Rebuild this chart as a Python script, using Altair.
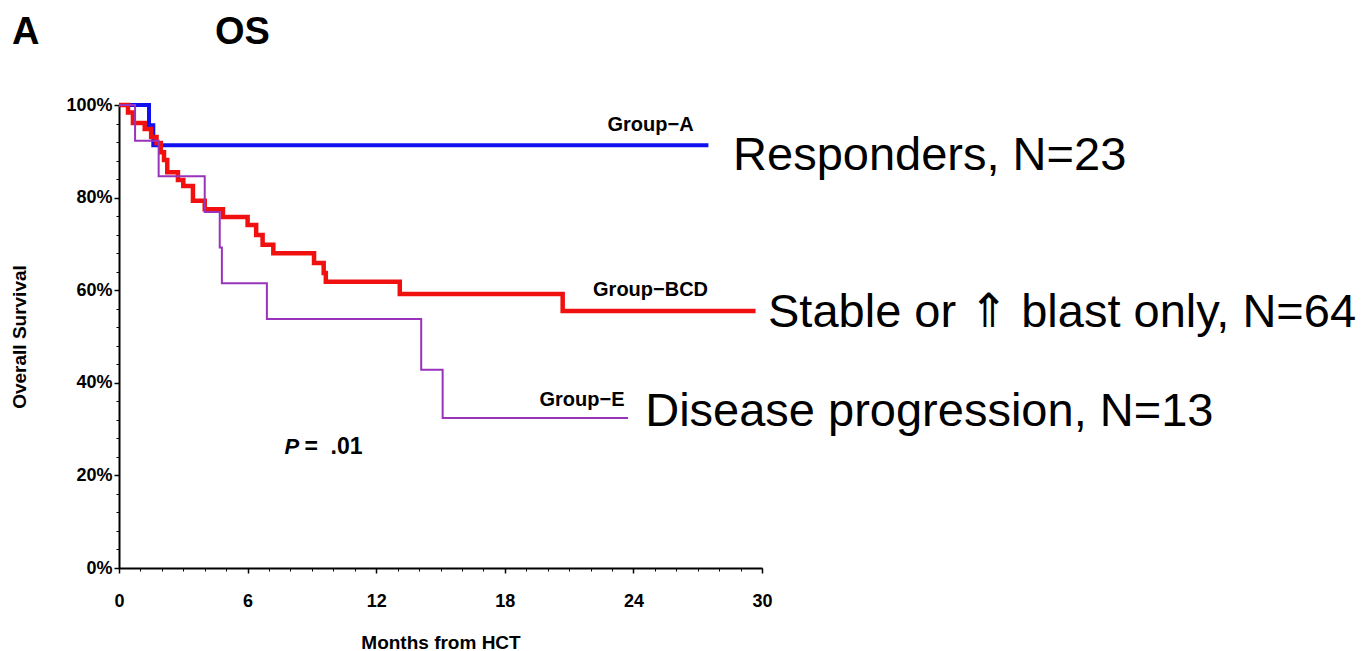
import altair as alt
import pandas as pd

# ---- data ----
group_a_months = [0, 1.4, 1.6, 27.5]
group_a_surv = [100, 95.65, 91.3, 91.3]

group_bcd_months = [0, 0.42, 0.65, 1.2, 1.5, 1.75, 1.95, 2.1, 2.25, 2.75, 3.0, 3.45,
                    4.0, 4.85, 6.0, 6.4, 6.7, 7.2, 9.1, 9.55, 9.65, 13.1, 20.7, 29.7]
group_bcd_surv = [100, 98.4, 96.1, 94.8, 93.1, 91.8, 89.8, 88.1, 85.5, 83.8, 82.5, 79.3,
                  77.5, 75.8, 74.1, 71.9, 69.8, 68.0, 65.9, 63.7, 61.8, 59.2, 55.5, 55.5]

group_e_months = [0, 0.75, 1.85, 4.0, 4.7, 4.8, 6.9, 14.1, 15.1, 23.75]
group_e_surv = [100, 92.3, 84.6, 76.9, 69.2, 61.5, 53.8, 42.8, 32.4, 32.4]

group_names = ["Group-A", "Group-BCD", "Group-E"]
group_colors = ["#1010f0", "#f01010", "#9933bb"]
group_widths = [4, 4.5, 2]

x_ticks = [0, 6, 12, 18, 24, 30]
y_ticks = [0, 20, 40, 60, 80, 100]

# annotation labels (text, month, survival)
small_labels = ["Group\u2212A", "Group\u2212BCD", "Group\u2212E"]
small_x = [24.8, 24.8, 21.6]
small_y = [95.7, 60.0, 36.3]

big_labels = ["Responders, N=23", "Stable or \u21d1 blast only, N=64", "Disease progression, N=13"]
big_x = [28.65, 30.28, 24.55]
big_y = [89.0, 55.1, 33.7]

p_x = [8.07]
p_rest_x = [8.65]
p_y = [26.2]

rows = []
for name, ms, ss in [("Group-A", group_a_months, group_a_surv),
                     ("Group-BCD", group_bcd_months, group_bcd_surv),
                     ("Group-E", group_e_months, group_e_surv)]:
    for m, s in zip(ms, ss):
        rows.append({"group": name, "month": m, "surv": s})
curves = pd.DataFrame(rows)

FONT = "Liberation Sans, Arial"

xscale = alt.Scale(domain=[0, 30], nice=False, zero=False)
yscale = alt.Scale(domain=[0, 100], nice=False)

x_axis = alt.Axis(values=x_ticks, tickSize=5, tickWidth=1.5, tickColor="black",
                  domainColor="black", domainWidth=2, grid=False,
                  labelFont=FONT, labelFontSize=18, labelFontWeight="bold", labelColor="black",
                  labelPadding=19, labelFlush=False,
                  title="Months from HCT", titleFont=FONT, titleFontSize=19,
                  titleFontWeight="bold", titleColor="black", titlePadding=23, orient="bottom")
y_axis = alt.Axis(values=y_ticks, tickSize=5, tickWidth=1.5, tickColor="black",
                  domainColor="black", domainWidth=2, grid=False,
                  labelFont=FONT, labelFontSize=18, labelFontWeight="bold", labelColor="black",
                  labelPadding=2, labelExpr="datum.value + '%'", labelFlush=False,
                  title="Overall Survival", titleFont=FONT, titleFontSize=19,
                  titleFontWeight="bold", titleColor="black", titlePadding=36, orient="left")

x_minor = alt.Axis(values=list(range(0, 31)), tickSize=3, tickWidth=1, tickColor="black",
                   labels=False, domain=False, grid=False, title=None, orient="bottom")
y_minor = alt.Axis(values=list(range(0, 101, 4)), tickSize=3, tickWidth=1, tickColor="black",
                   labels=False, domain=False, grid=False, title=None, orient="left")


def curve(name, color, width, xa, ya):
    return alt.Chart(curves).transform_filter(
        alt.datum.group == name
    ).mark_line(interpolate="step-after", color=color, strokeWidth=width).encode(
        x=alt.X("month:Q", scale=xscale, axis=xa),
        y=alt.Y("surv:Q", scale=yscale, axis=ya),
    )


line_a = curve(group_names[0], group_colors[0], group_widths[0], x_axis, y_axis)
line_bcd = curve(group_names[1], group_colors[1], group_widths[1], x_minor, y_minor)
line_e = curve(group_names[2], group_colors[2], group_widths[2], None, None)

small_df = pd.DataFrame({"label": small_labels, "month": small_x, "surv": small_y})
small = alt.Chart(small_df).mark_text(font=FONT, fontSize=20, fontWeight="bold", color="black",
                                      align="center", baseline="middle").encode(
    x=alt.X("month:Q", scale=xscale, axis=None),
    y=alt.Y("surv:Q", scale=yscale, axis=None),
    text="label:N",
)

big_df = pd.DataFrame({"label": big_labels, "month": big_x, "surv": big_y})
big = alt.Chart(big_df).mark_text(font=FONT, fontSize=47, color="black",
                                  align="left", baseline="middle").encode(
    x=alt.X("month:Q", scale=xscale, axis=None),
    y=alt.Y("surv:Q", scale=yscale, axis=None),
    text="label:N",
)

p_df = pd.DataFrame({"month": p_x, "surv": p_y, "label": ["P"]})
p_italic = alt.Chart(p_df).mark_text(font=FONT, fontSize=22, fontWeight="bold",
                                     fontStyle="italic", color="black", align="center",
                                     baseline="middle").encode(
    x=alt.X("month:Q", scale=xscale, axis=None),
    y=alt.Y("surv:Q", scale=yscale, axis=None),
    text="label:N",
)
p_rest_df = pd.DataFrame({"month": p_rest_x, "surv": p_y, "label": ["=\u00a0\u00a0.01"]})
p_rest = alt.Chart(p_rest_df).mark_text(font=FONT, fontSize=23, fontWeight="bold",
                                        color="black", align="left", baseline="middle").encode(
    x=alt.X("month:Q", scale=xscale, axis=None),
    y=alt.Y("surv:Q", scale=yscale, axis=None),
    text="label:N",
)

headings = pd.DataFrame({"label": ["A", "OS"]})
head_a = alt.Chart(headings).transform_filter("datum.label == 'A'").mark_text(
    font=FONT, fontSize=38, fontWeight="bold", color="black",
    align="left", baseline="middle").encode(
    x=alt.value(-107), y=alt.value(-72), text="label:N")
head_os = alt.Chart(headings).transform_filter("datum.label == 'OS'").mark_text(
    font=FONT, fontSize=38, fontWeight="bold", color="black",
    align="left", baseline="middle").encode(
    x=alt.value(96), y=alt.value(-72), text="label:N")

chart = alt.layer(line_a, line_bcd, line_e, small, big, p_italic, p_rest, head_a, head_os).resolve_axis(
    x="independent", y="independent"
).properties(
    width=643, height=463,
    autosize=alt.AutoSizeParams(type="none"),
    padding={"left": 119, "top": 105, "right": 599, "bottom": 83},
    background="white",
).configure_view(stroke=None)

chart.save("out.html", embed_options={"renderer": "svg", "actions": False})
